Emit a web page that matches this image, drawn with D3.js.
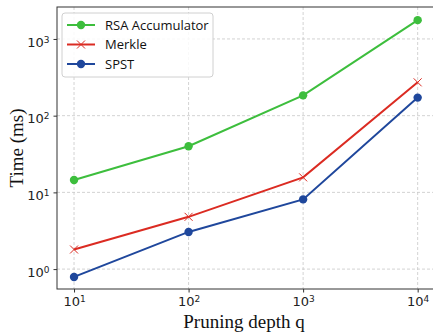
<!DOCTYPE html>
<html>
<head>
<meta charset="utf-8">
<script src="https://cdn.jsdelivr.net/npm/d3@7"></script>
<style>
body { margin: 0; background: #fff; }
</style>
</head>
<body>
<div id="chart"></div>
<script>
// data
var depths = [10, 100, 1000, 10000];
var rsaTimes = [14.5, 40, 184, 1760];
var merkleTimes = [1.8, 4.8, 15.7, 272];
var spstTimes = [0.79, 3.05, 8.1, 172];
var xTickExps = [1, 2, 3, 4];
var yTickExps = [0, 1, 2, 3];
var seriesNames = ["RSA Accumulator", "Merkle", "SPST"];

var W = 433, H = 336;
var margin = {top: 7, right: -3, bottom: 47, left: 57};
var width = W - margin.left - margin.right;
var height = H - margin.top - margin.bottom;

var svg = d3.select("#chart").append("svg")
    .attr("width", W).attr("height", H);
var g = svg.append("g")
    .attr("transform", "translate(" + margin.left + "," + margin.top + ")");

var x = d3.scaleLog().domain([7.1, 13340]).range([0, 375]);
var y = d3.scaleLog().domain([0.55, 2610]).range([height, 0]);

// grid
g.append("g").selectAll("line").data(xTickExps).enter().append("line")
    .attr("x1", function(d) { return x(Math.pow(10, d)); })
    .attr("x2", function(d) { return x(Math.pow(10, d)); })
    .attr("y1", 0).attr("y2", height)
    .attr("stroke", "#c8c8c8").attr("stroke-dasharray", "3,2").attr("stroke-width", 0.8);
g.append("g").selectAll("line").data(yTickExps).enter().append("line")
    .attr("y1", function(d) { return y(Math.pow(10, d)); })
    .attr("y2", function(d) { return y(Math.pow(10, d)); })
    .attr("x1", 0).attr("x2", width)
    .attr("stroke", "#c8c8c8").attr("stroke-dasharray", "3,2").attr("stroke-width", 0.8);

// axes
function supLabel(sel, exp) {
  sel.text(null);
  sel.append("tspan").text("10");
  sel.append("tspan").attr("dy", "-0.45em").style("font-size", "9px").text(exp);
}
var xAxis = g.append("g")
    .attr("transform", "translate(0," + height + ")")
    .call(d3.axisBottom(x).tickValues(xTickExps.map(function(e) { return Math.pow(10, e); }))
      .tickSize(3.5).tickPadding(4).tickFormat(""));
xAxis.selectAll(".tick text").each(function(d, i) { supLabel(d3.select(this), xTickExps[i]); });
var yAxis = g.append("g")
    .call(d3.axisLeft(y).tickValues(yTickExps.map(function(e) { return Math.pow(10, e); }))
      .tickSize(3.5).tickPadding(4).tickFormat(""));
yAxis.selectAll(".tick text").each(function(d, i) { supLabel(d3.select(this), yTickExps[i]); })
    .attr("dy", "0.55em");
svg.selectAll(".tick text")
    .style("font-family", "'DejaVu Sans', sans-serif").style("font-size", "13px").attr("fill", "#222");
svg.selectAll(".tick line").attr("stroke", "#333");
svg.selectAll(".domain").remove();

// frame
g.append("rect").attr("width", width).attr("height", height)
    .attr("fill", "none").attr("stroke", "#333").attr("stroke-width", 1);

// lines
var colors = ["#3dbe3d", "#db2b22", "#1f479c"];
var allSeries = [rsaTimes, merkleTimes, spstTimes];
var line = d3.line()
    .x(function(d, i) { return x(depths[i]); })
    .y(function(d) { return y(d); });

allSeries.forEach(function(vals, k) {
  g.append("path").datum(vals)
    .attr("fill", "none").attr("stroke", colors[k]).attr("stroke-width", 2)
    .attr("d", line);
  if (k === 1) {
    g.append("g").selectAll("path").data(vals).enter().append("path")
      .attr("transform", function(d, i) { return "translate(" + x(depths[i]) + "," + y(d) + ")"; })
      .attr("d", "M-4,-4L4,4M-4,4L4,-4")
      .attr("stroke", colors[k]).attr("stroke-width", 1);
  } else {
    g.append("g").selectAll("circle").data(vals).enter().append("circle")
      .attr("cx", function(d, i) { return x(depths[i]); })
      .attr("cy", function(d) { return y(d); })
      .attr("r", 4.2).attr("fill", colors[k]);
  }
});

// legend
var lg = svg.append("g").attr("transform", "translate(62,13)");
lg.append("rect").attr("width", 151).attr("height", 64).attr("rx", 3)
    .attr("fill", "#fff").attr("fill-opacity", 0.85).attr("stroke", "#d0d0d0");
seriesNames.forEach(function(name, k) {
  var yy = 12 + k * 19.5;
  lg.append("line").attr("x1", 5).attr("x2", 33).attr("y1", yy).attr("y2", yy)
    .attr("stroke", colors[k]).attr("stroke-width", 2);
  if (k === 1) {
    lg.append("path").attr("transform", "translate(19," + yy + ")")
      .attr("d", "M-4,-4L4,4M-4,4L4,-4").attr("stroke", colors[k]).attr("stroke-width", 1);
  } else {
    lg.append("circle").attr("cx", 19).attr("cy", yy).attr("r", 4.2).attr("fill", colors[k]);
  }
  lg.append("text").attr("x", 43).attr("y", yy).attr("dy", "0.35em")
    .style("font-family", "'Open Sans', sans-serif").style("font-size", "13px")
    .attr("fill", "#111").text(name);
});

// axis titles
svg.append("text").attr("x", 244).attr("y", 328)
    .attr("text-anchor", "middle")
    .style("font-family", "'Liberation Serif', serif").style("font-size", "19px")
    .attr("fill", "#111").text("Pruning depth q");
svg.append("text").attr("transform", "translate(23," + (margin.top + height / 2) + ") rotate(-90)")
    .attr("text-anchor", "middle")
    .style("font-family", "'Liberation Serif', serif").style("font-size", "19px")
    .attr("fill", "#111").text("Time (ms)");
</script>
</body>
</html>
